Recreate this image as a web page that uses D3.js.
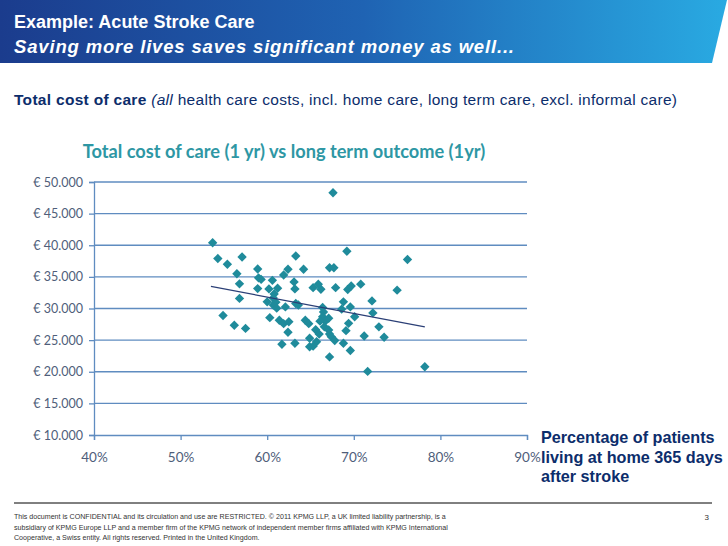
<!DOCTYPE html>
<html>
<head>
<meta charset="utf-8">
<script src="https://cdn.jsdelivr.net/npm/d3@7"></script>
<style>
  body { margin: 0; background: #fff; }
  text { font-family: "Liberation Sans", Arial, sans-serif; }
  .chart text { font-family: Lato, "Open Sans", sans-serif; }
</style>
</head>
<body>
<div class="canvas"></div>
<script>
// data
const pctHome = [53.7, 54.3, 55.4, 57.1, 56.5, 56.8, 56.8, 54.9, 56.2, 57.5,
  58.9, 59.0, 59.3, 58.9, 60.6, 60.2, 61.2, 61.9, 62.4, 63.3,
  64.2, 63.1, 63.2, 60.8, 60.0, 60.7, 61.0, 60.7, 61.1, 62.1,
  63.3, 63.6, 60.3, 61.4, 61.9, 62.5, 62.4, 61.7, 63.2, 64.4,
  64.8, 64.9, 64.9, 65.3, 65.9, 66.2, 67.2, 67.7, 67.9, 69.3,
  69.7, 70.8, 69.2, 67.6, 66.4, 66.5, 66.4, 66.7, 67.1, 66.1,
  66.6, 67.1, 67.2, 65.6, 66.0, 65.7, 65.3, 67.4, 67.8, 68.6,
  68.8, 69.6, 70.1, 69.1, 69.4, 68.8, 69.6, 67.2, 71.6, 72.1,
  72.2, 72.9, 71.2, 73.5, 75.0, 76.2, 78.2];
const costEur = [40400, 37900, 37000, 38150, 35500, 33900, 31600, 28900, 27350, 26850,
  36250, 34850, 34600, 33150, 34450, 33100, 33200, 35300, 36200, 38300,
  36200, 34200, 33100, 32300, 31050, 31650, 31000, 30550, 30050, 30250,
  30800, 30550, 28550, 28150, 27600, 27900, 26250, 24350, 24500, 28150,
  27600, 25300, 23950, 33300, 33850, 33050, 36450, 36450, 33300, 33000,
  33550, 33850, 39050, 48300, 30150, 29450, 28700, 28000, 28450, 28000,
  27100, 26600, 25950, 26650, 25950, 24750, 24050, 25550, 24950, 29900,
  31050, 30250, 28700, 26500, 27650, 24500, 23350, 22350, 20050, 31200,
  29300, 27100, 25650, 25450, 32900, 37750, 20800];
const trendPct = [53.5, 78.2];
const trendCost = [33500, 27100];
const xTicks = [40, 50, 60, 70, 80, 90];
const yTicks = [10000, 15000, 20000, 25000, 30000, 35000, 40000, 45000, 50000];

const svg = d3.select(".canvas").append("svg")
  .attr("width", 728)
  .attr("height", 546);

// header band
const grad = svg.append("defs").append("linearGradient")
  .attr("id", "band").attr("x1", "0%").attr("x2", "100%");
grad.append("stop").attr("offset", "0%").attr("stop-color", "#1b3c8d");
grad.append("stop").attr("offset", "50%").attr("stop-color", "#1f63b3");
grad.append("stop").attr("offset", "100%").attr("stop-color", "#29aae2");
svg.append("polygon")
  .attr("points", "0,0 727,0 712,63 0,63")
  .attr("fill", "url(#band)");
svg.append("text").attr("x", 14).attr("y", 28)
  .attr("fill", "#fff").attr("font-size", 18).attr("font-weight", "bold")
  .text("Example: Acute Stroke Care");
svg.append("text").attr("x", 14).attr("y", 53)
  .attr("fill", "#fff").attr("font-size", 18.5).attr("font-weight", "bold").attr("font-style", "italic")
  .attr("textLength", 500).attr("lengthAdjust", "spacing")
  .text("Saving more lives saves significant money as well...");

const sub = svg.append("text").attr("x", 14).attr("y", 105)
  .attr("fill", "#0c2d6b").attr("font-size", 15.5)
  .attr("textLength", 663).attr("lengthAdjust", "spacing");
sub.append("tspan").attr("font-weight", "bold").text("Total cost of care ");
sub.append("tspan").attr("font-style", "italic").text("(all");
sub.append("tspan").text(" health care costs, incl. home care, long term care, excl. informal care)");

// chart
const chart = svg.append("g").attr("class", "chart");
chart.append("text").attr("x", 284).attr("y", 158)
  .attr("text-anchor", "middle").attr("fill", "#2e97a4")
  .attr("font-size", 18.2).attr("font-weight", "bold")
  .text("Total cost of care (1 yr) vs long term outcome (1yr)");

const xScale = d3.scaleLinear().domain([40, 90]).range([94, 527]);
const yScale = d3.scaleLinear().domain([10000, 50000]).range([435, 182]);
const gridColor = "#5f8cc0";
const labelColor = "#4f5e7a";

// gridlines
chart.append("g").selectAll("line").data(yTicks.slice(1)).join("line")
  .attr("x1", xScale(40)).attr("x2", xScale(90))
  .attr("y1", d => yScale(d)).attr("y2", d => yScale(d))
  .attr("stroke", gridColor).attr("stroke-width", 1.3);

const euro = d => "€ " + d3.format(",")(d).replace(/,/g, ".");
const yAxis = chart.append("g").attr("transform", `translate(${xScale(40)},0)`)
  .call(d3.axisLeft(yScale).tickValues(yTicks).tickFormat(euro).tickSize(5).tickPadding(6));
const xAxis = chart.append("g").attr("transform", `translate(0,${yScale(10000)})`)
  .call(d3.axisBottom(xScale).tickValues(xTicks).tickFormat(d => d + "%").tickSize(5).tickPadding(12));
[yAxis, xAxis].forEach(a => {
  a.select(".domain").attr("stroke", gridColor).attr("stroke-width", 1.3);
  a.selectAll(".tick line").attr("stroke", gridColor).attr("stroke-width", 1.3);
  a.selectAll("text").attr("fill", labelColor).attr("font-size", 12.5)
    .attr("font-family", "Lato, sans-serif");
});
xAxis.selectAll("text").attr("font-size", 13.5);

// points
const diamond = d3.symbol().type(d3.symbolSquare).size(44);
chart.append("g").selectAll("path").data(pctHome).join("path")
  .attr("d", diamond)
  .attr("transform", (d, i) => `translate(${xScale(d)},${yScale(costEur[i])}) rotate(45)`)
  .attr("fill", "#1f8b9b");

// trend line
chart.append("line")
  .attr("x1", xScale(trendPct[0])).attr("y1", yScale(trendCost[0]))
  .attr("x2", xScale(trendPct[1])).attr("y2", yScale(trendCost[1]))
  .attr("stroke", "#2b3f76").attr("stroke-width", 1.2);

// axis title on the right
const axTitle = svg.append("text").attr("fill", "#0c2d6b")
  .attr("font-size", 16.2).attr("font-weight", "bold");
["Percentage of patients", "living at home 365 days", "after stroke"].forEach((t, i) => {
  axTitle.append("tspan").attr("x", 541).attr("y", 443 + i * 19.5).text(t);
});

// footer
svg.append("line").attr("x1", 14).attr("x2", 712).attr("y1", 503).attr("y2", 503)
  .attr("stroke", "#000").attr("stroke-width", 1);
const footer = [
  "This document is CONFIDENTIAL and its circulation and use are RESTRICTED. © 2011 KPMG LLP, a UK limited liability partnership, is a",
  "subsidiary of KPMG Europe LLP and a member firm of the KPMG network of independent member firms affiliated with KPMG International",
  "Cooperative, a Swiss entity. All rights reserved. Printed in the United Kingdom."
];
svg.append("g").selectAll("text").data(footer).join("text")
  .attr("x", 14).attr("y", (d, i) => 519 + i * 10.5)
  .attr("font-size", 7.1).attr("fill", "#333")
  .text(d => d);
svg.append("text").attr("x", 709).attr("y", 520).attr("text-anchor", "end")
  .attr("font-size", 8).attr("fill", "#333").text("3");
</script>
</body>
</html>
